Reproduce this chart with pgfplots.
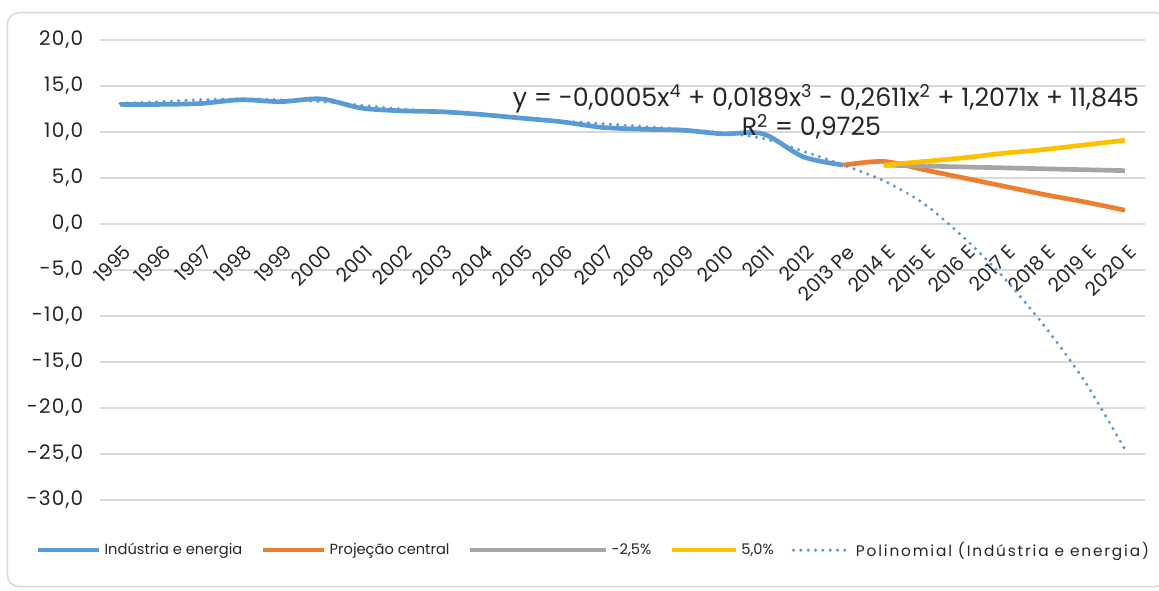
\documentclass[border=0pt]{standalone}
\usepackage{fontspec}
\setmainfont{Poppins}
\usepackage{pgfplots}
\pgfplotsset{compat=1.18}
\definecolor{cblue}{HTML}{5B9BD5}
\definecolor{corange}{HTML}{ED7D31}
\definecolor{cgray}{HTML}{A5A5A5}
\definecolor{cyellow}{HTML}{FFC000}
\definecolor{cgrid}{HTML}{D9D9D9}
\definecolor{ctext}{HTML}{262626}
\pgfplotsset{
  leglong/.style={legend image code/.code={\draw[##1] (0pt,0pt) -- (102pt,0pt);}},
  legmid/.style={legend image code/.code={\draw[##1] (0pt,0pt) -- (48pt,0pt);}},
  legdot/.style={legend image code/.code={\draw[##1] (1pt,0pt) -- (44pt,0pt);}},
}
\begin{document}
\begin{tikzpicture}
\path[use as bounding box] (0,0) rectangle (869.25pt,442.5pt);
\draw[cgrid, line width=1.2pt, rounded corners=9pt] (5.5pt,2.5pt) rectangle (875pt,433pt);
\begin{axis}[
  at={(75pt,67.5pt)}, anchor=south west,
  scale only axis, width=783.75pt, height=345pt,
  xmin=-0.5, xmax=25.5, ymin=-30, ymax=20,
  axis x line=middle, axis y line=left,
  axis line style={draw=none},
  hide obscured x ticks=false, hide obscured y ticks=false,
  major tick length=0pt,
  xtick={0,1,...,25},
  xticklabels={1995,1996,1997,1998,1999,2000,2001,2002,2003,2004,2005,2006,2007,2008,2009,2010,2011,2012,2013 Pe,2014 E,2015 E,2016 E,2017 E,2018 E,2019 E,2020 E},
  ytick={-30,-25,...,20},
  yticklabels={{-30,0},{-25,0},{-20,0},{-15,0},{-10,0},{-5,0},{0,0},{5,0},{10,0},{15,0},{20,0}},
  ymajorgrids, grid style={cgrid, line width=1.2pt},
  yticklabel style={font=\fontsize{15}{17}\selectfont\addfontfeature{LetterSpace=6}, text=ctext, xshift=-9pt},
  xticklabel style={font=\fontsize{14.5}{16}\selectfont, text=ctext, xshift=8pt, yshift=-16pt, rotate=45, anchor=east},
  legend columns=5,
  legend style={at={(axis description cs:-0.066,-0.109)}, anchor=west, draw=none, fill=none,
    font=\fontsize{11}{14}\selectfont, text=ctext,
    nodes={inner xsep=2.5pt, inner ysep=1pt},
    /tikz/every even column/.append style={column sep=11pt}},
  legend image code/.code={\draw[#1] (0pt,0pt) -- (46pt,0pt);},
]
\addplot[cblue, line width=3.5pt, smooth, tension=0.5] coordinates {
(0,13.0)(1,13.0)(2,13.1)(3,13.5)(4,13.3)(5,13.6)(6,12.6)(7,12.3)(8,12.2)(9,11.9)(10,11.5)(11,11.1)(12,10.5)(13,10.3)(14,10.2)(15,9.8)(16,9.8)(17,7.3)(18,6.4)};
\addlegendentry{Indústria e energia}
\addplot[corange, line width=3.5pt, smooth, tension=0.5] coordinates {
(18,6.4)(19,6.8)(20,5.9)(21,5.0)(22,4.1)(23,3.2)(24,2.4)(25,1.5)};
\addlegendentry{Projeção central}
\addplot[cgray, line width=3.5pt, smooth, tension=0.5, leglong] coordinates {
(19,6.4)(20,6.3)(21,6.2)(22,6.1)(23,6.0)(24,5.9)(25,5.8)};
\addlegendentry{-2,5\%}
\addplot[cyellow, line width=3.5pt, smooth, tension=0.5, legmid] coordinates {
(19,6.4)(20,6.8)(21,7.2)(22,7.7)(23,8.1)(24,8.6)(25,9.1)};
\addlegendentry{5,0\%}
\addplot[cblue, line width=2.6pt, line cap=round, dash pattern=on 0pt off 5.5pt, smooth, tension=0.5, legdot] coordinates {
(0,13.1)(1,13.3)(2,13.5)(3,13.6)(4,13.5)(5,13.3)(6,12.9)(7,12.5)(8,12.2)(9,11.9)(10,11.6)(11,11.2)(12,10.9)(13,10.6)(14,10.3)(15,9.9)(16,9.3)(17,7.9)(18,6.4)(19,4.7)(20,2.2)(21,-1.5)(22,-5.9)(23,-11.1)(24,-17.1)(25,-24.5)};
\addlegendentry{\fontsize{11.5}{14}\selectfont\addfontfeature{LetterSpace=12}Polinomial (Indústria e energia)}
\node[font=\fontsize{19}{21}\selectfont, text=ctext] at (axis cs:17.56,13.6) {y = -0,0005x\textsuperscript{4} + 0,0189x\textsuperscript{3} - 0,2611x\textsuperscript{2} + 1,2071x + 11,845};
\node[font=\fontsize{19}{21}\selectfont, text=ctext] at (axis cs:17.2,10.55) {R\textsuperscript{2} = 0,9725};
\end{axis}
\end{tikzpicture}
\end{document}
